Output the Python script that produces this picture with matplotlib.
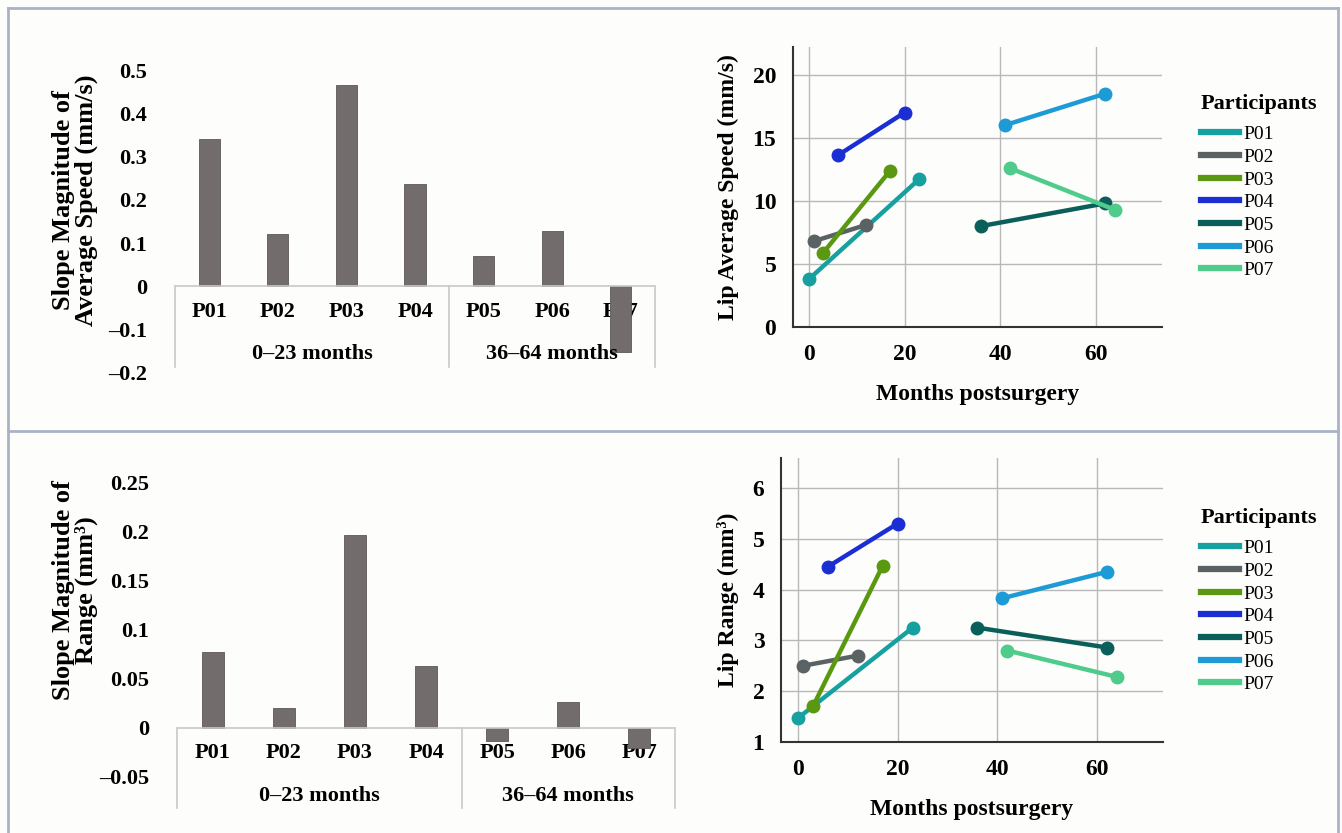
import matplotlib.pyplot as plt
from matplotlib.lines import Line2D

plt.rcParams['font.family'] = ['Liberation Serif', 'DejaVu Serif']

# bar chart data
participants = ["P01", "P02", "P03", "P04", "P05", "P06", "P07"]
groups = ["0\u201323 months", "36\u201364 months"]
slope_speed = [0.340, 0.120, 0.465, 0.237, 0.070, 0.128, -0.151]
slope_range = [0.0776, 0.0204, 0.1966, 0.0630, -0.0136, 0.0260, -0.0204]

# line chart data: months postsurgery (start, end) and values
months = {
    "P01": [0, 23], "P02": [1, 12], "P03": [3, 17], "P04": [6, 20],
    "P05": [36, 62], "P06": [41, 62], "P07": [42, 64],
}
speed = {
    "P01": [3.8, 11.7], "P02": [6.8, 8.1], "P03": [5.9, 12.4], "P04": [13.6, 17.0],
    "P05": [8.0, 9.8], "P06": [16.0, 18.5], "P07": [12.6, 9.3],
}
lip_range = {
    "P01": [1.47, 3.25], "P02": [2.5, 2.7], "P03": [1.7, 4.47], "P04": [4.45, 5.3],
    "P05": [3.25, 2.86], "P06": [3.83, 4.35], "P07": [2.8, 2.28],
}
colors = {
    "P01": "#16a0a0", "P02": "#5b6263", "P03": "#5a9812", "P04": "#1a2ed4",
    "P05": "#0b5f5a", "P06": "#1c9bd7", "P07": "#4fcb8c",
}

W, H = 1342, 833
fig = plt.figure(figsize=(W / 100, H / 100), dpi=100)
fig.patch.set_facecolor("#fdfdfb")


def px_axes(x0, y0, x1, y1):
    # axes from pixel box (top-left origin)
    return fig.add_axes([x0 / W, (H - y1) / H, (x1 - x0) / W, (y1 - y0) / H])


def bar_panel(ax, values, ylim, ticks, ticklabels, lab_y, grp_y, box_y):
    x = list(range(len(participants)))
    ax.bar(x, values, width=0.31, color="#736c6c", edgecolor="#5e5858", linewidth=0.6)
    ax.set_xlim(-0.5, 6.5)
    ax.set_ylim(*ylim)
    for s in ax.spines.values():
        s.set_visible(False)
    ax.set_facecolor("none")
    ax.set_xticks([])
    ax.set_yticks(ticks)
    ax.set_yticklabels(ticklabels, fontsize=16, fontweight="bold")
    ax.tick_params(axis="y", length=0, pad=20)
    ax.plot([-0.5, 6.5], [0, 0], color="#c9c9c9", lw=1.2, zorder=1)
    for xv in [-0.5, 3.5, 6.5]:
        ax.plot([xv, xv], [0, box_y], color="#c9c9c9", lw=1.2, clip_on=False, zorder=1)
    for i, p in enumerate(participants):
        ax.text(i, lab_y, p, ha="center", va="center", fontsize=16, fontweight="bold", zorder=0)
    ax.text(1.5, grp_y, groups[0], ha="center", va="center", fontsize=16, fontweight="bold")
    ax.text(5, grp_y, groups[1], ha="center", va="center", fontsize=16, fontweight="bold")


def line_panel(ax, data, xlim, ylim, yticks, ylabel, leg_xy):
    for p in participants:
        ax.plot(months[p], data[p], color=colors[p], lw=3.2, marker="o", ms=9,
                solid_capstyle="round", label=p)
    ax.set_xlim(*xlim)
    ax.set_ylim(*ylim)
    ax.set_xticks([0, 20, 40, 60])
    ax.set_yticks(yticks)
    ax.grid(True, color="#b8b8b8", lw=1)
    ax.set_axisbelow(True)
    ax.set_facecolor("none")
    ax.spines["top"].set_visible(False)
    ax.spines["right"].set_visible(False)
    ax.spines["left"].set_color("#333333")
    ax.spines["bottom"].set_color("#333333")
    ax.spines["left"].set_linewidth(1.5)
    ax.spines["bottom"].set_linewidth(1.5)
    ax.tick_params(length=0, labelsize=17, pad=12)
    for t in ax.get_xticklabels() + ax.get_yticklabels():
        t.set_fontweight("bold")
    ax.set_xlabel("Months postsurgery", fontsize=17, fontweight="bold", labelpad=14)
    ax.set_ylabel(ylabel, fontsize=17, fontweight="bold", labelpad=10)
    handles = [Line2D([0], [0], color=colors[p], lw=4.5) for p in participants]
    leg = fig.legend(handles, participants, loc="upper left",
                     bbox_to_anchor=(leg_xy[0] / W, 1 - leg_xy[1] / H),
                     frameon=False, title="Participants", fontsize=14,
                     handlelength=2.0, handletextpad=0.2, labelspacing=0.26,
                     title_fontproperties={"weight": "bold", "size": 16})
    leg._legend_box.align = "left"
    leg._legend_box.sep = 8


# top-left bars
ax1 = px_axes(175, 70, 655, 373)
bar_panel(ax1, slope_speed, (-0.2, 0.5),
          [-0.2, -0.1, 0, 0.1, 0.2, 0.3, 0.4, 0.5],
          ["\u20130.2", "\u20130.1", "0", "0.1", "0.2", "0.3", "0.4", "0.5"],
          lab_y=-0.058, grp_y=-0.156, box_y=-0.186)
fig.text(75 / W, 1 - 200 / H, "Slope Magnitude of\nAverage Speed (mm/s)", rotation=90,
         ha="center", va="center", fontsize=19, fontweight="bold", multialignment="center",
         linespacing=0.95)

# bottom-left bars
ax3 = px_axes(177, 482, 675, 777)
bar_panel(ax3, slope_range, (-0.05, 0.25),
          [-0.05, 0, 0.05, 0.1, 0.15, 0.2, 0.25],
          ["\u20130.05", "0", "0.05", "0.1", "0.15", "0.2", "0.25"],
          lab_y=-0.026, grp_y=-0.0697, box_y=-0.082)
fig.text(75 / W, 1 - 590 / H, "Slope Magnitude of\nRange (mm\u00b3)", rotation=90,
         ha="center", va="center", fontsize=19, fontweight="bold", multialignment="center",
         linespacing=0.95)

# top-right lines
ax2 = px_axes(793, 47, 1162, 327)
line_panel(ax2, speed, (-3.35, 73.9), (0, 22.2), [0, 5, 10, 15, 20],
           "Lip Average Speed (mm/s)", (1183, 77))

# bottom-right lines
ax4 = px_axes(781, 458, 1163, 742)
line_panel(ax4, lip_range, (-3.4, 73.2), (1, 6.59), [1, 2, 3, 4, 5, 6],
           "Lip Range (mm\u00b3)", (1183, 491))

# panel borders
bc = "#a9b3c7"
for seg in [((8, 8), (1338, 8)), ((8, 431), (1338, 431)), ((8, 8), (8, 833)),
            ((1338, 8), (1338, 833))]:
    (xa, ya), (xb, yb) = seg
    fig.add_artist(Line2D([xa / W, xb / W], [1 - ya / H, 1 - yb / H], color=bc, lw=2))

fig.savefig("out.png", dpi=100, facecolor=fig.get_facecolor())
